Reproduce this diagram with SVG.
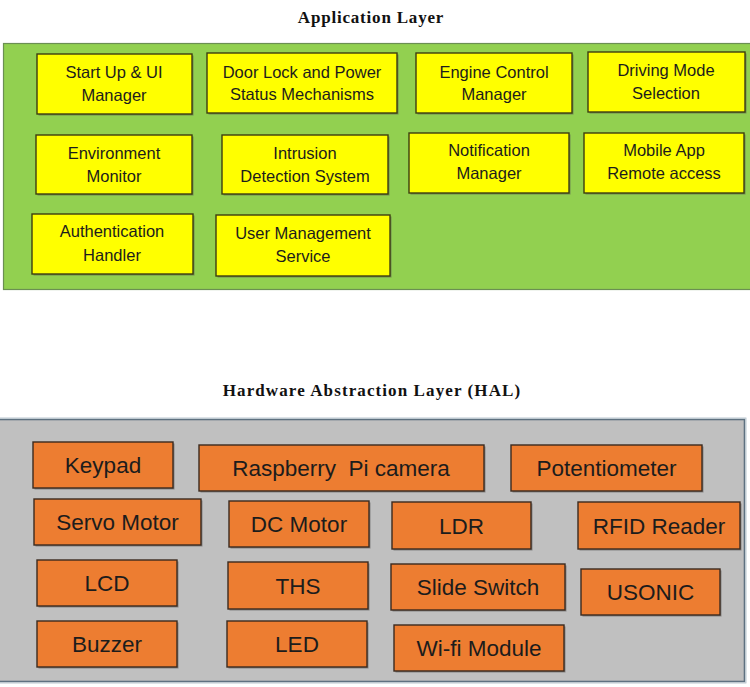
<svg xmlns="http://www.w3.org/2000/svg" width="750" height="687" viewBox="0 0 750 687">
<defs>
<style>
.title{font-family:"Liberation Serif","Times New Roman",serif;font-weight:bold;font-size:17px;fill:#111;text-anchor:middle}
.app rect.b{fill:#ffff00;stroke:#3d3d10;stroke-width:1.4}
.hal rect.b{fill:#ed7d31;stroke:#3b2a1e;stroke-width:1.4}
rect.s{fill:#555;opacity:0.55}
.app text{font-family:"Liberation Sans",Arial,sans-serif;font-size:16.5px;fill:#1c1c1c;text-anchor:middle}
.hal text{font-family:"Liberation Sans",Arial,sans-serif;font-size:22.5px;fill:#1c1c1c;text-anchor:middle}
</style>
</defs>
<rect width="750" height="687" fill="#ffffff"/>

<text class="title" x="371" y="23" letter-spacing="0.8">Application Layer</text>
<g id="app-layer">
<rect x="3.5" y="43.5" width="750" height="246" fill="#92d050" stroke="#6b8f52" stroke-width="1.2"/>
</g>

<g class="app">
<g id="startup"><rect class="s" x="38.5" y="55.5" width="155" height="60"/><rect class="b" x="37" y="54" width="155" height="60"/><text x="114" y="78">Start Up &amp; UI</text><text x="114" y="101">Manager</text></g>
<g id="doorlock"><rect class="s" x="208.5" y="54.5" width="190" height="60"/><rect class="b" x="207" y="53" width="190" height="60"/><text x="302" y="77.5">Door Lock and Power</text><text x="302" y="100">Status Mechanisms</text></g>
<g id="engine"><rect class="s" x="417.5" y="54.5" width="156" height="60"/><rect class="b" x="416" y="53" width="156" height="60"/><text x="494" y="77.5">Engine Control</text><text x="494" y="100">Manager</text></g>
<g id="driving"><rect class="s" x="589.5" y="53.5" width="157" height="60"/><rect class="b" x="588" y="52" width="157" height="60"/><text x="666" y="76">Driving Mode</text><text x="666" y="99">Selection</text></g>

<g id="environment"><rect class="s" x="37.5" y="136.5" width="156" height="59"/><rect class="b" x="36" y="135" width="156" height="59"/><text x="114" y="158.5">Environment</text><text x="114" y="181.5">Monitor</text></g>
<g id="intrusion"><rect class="s" x="223.5" y="136.5" width="166" height="59"/><rect class="b" x="222" y="135" width="166" height="59"/><text x="305" y="158.5">Intrusion</text><text x="305" y="181.5">Detection System</text></g>
<g id="notification"><rect class="s" x="410.5" y="134.5" width="160" height="60"/><rect class="b" x="409" y="133" width="160" height="60"/><text x="489" y="156">Notification</text><text x="489" y="179">Manager</text></g>
<g id="mobile"><rect class="s" x="585.5" y="134.5" width="160" height="60"/><rect class="b" x="584" y="133" width="160" height="60"/><text x="664" y="156">Mobile App</text><text x="664" y="179">Remote access</text></g>

<g id="authentication"><rect class="s" x="33.5" y="215.5" width="161" height="60"/><rect class="b" x="32" y="214" width="161" height="60"/><text x="112" y="237">Authentication</text><text x="112" y="260.5">Handler</text></g>
<g id="usermgmt"><rect class="s" x="217.5" y="216.5" width="174" height="61"/><rect class="b" x="216" y="215" width="174" height="61"/><text x="303" y="239">User Management</text><text x="303" y="262">Service</text></g>
</g>

<text class="title" x="372" y="396" letter-spacing="1.1">Hardware Abstraction Layer (HAL)</text>
<g id="hal-layer">
<rect x="-2" y="419.5" width="746.5" height="262" fill="#c0c0c0" stroke="#5e7180" stroke-width="1.6"/>
<rect x="-3" y="418" width="749" height="265" fill="none" stroke="#a9b8c4" stroke-width="0.8"/>
</g>

<g class="hal">
<g id="keypad"><rect class="s" x="34.5" y="443.5" width="140" height="46"/><rect class="b" x="33" y="442" width="140" height="46"/><text x="103" y="473">Keypad</text></g>
<g id="rpicam"><rect class="s" x="200.5" y="446.5" width="285" height="46"/><rect class="b" x="199" y="445" width="285" height="46"/><text x="341" y="476" xml:space="preserve">Raspberry  Pi camera</text></g>
<g id="potentiometer"><rect class="s" x="512.5" y="446.5" width="191" height="46"/><rect class="b" x="511" y="445" width="191" height="46"/><text x="606.5" y="476">Potentiometer</text></g>

<g id="servo"><rect class="s" x="35.5" y="500.5" width="167" height="46"/><rect class="b" x="34" y="499" width="167" height="46"/><text x="117.5" y="530">Servo Motor</text></g>
<g id="dcmotor"><rect class="s" x="230.5" y="502.5" width="140" height="46"/><rect class="b" x="229" y="501" width="140" height="46"/><text x="299" y="532">DC Motor</text></g>
<g id="ldr"><rect class="s" x="393.5" y="503.5" width="139" height="47"/><rect class="b" x="392" y="502" width="139" height="47"/><text x="461.5" y="533.5">LDR</text></g>
<g id="rfid"><rect class="s" x="579.5" y="503.5" width="162" height="47"/><rect class="b" x="578" y="502" width="162" height="47"/><text x="659" y="533.5">RFID Reader</text></g>

<g id="lcd"><rect class="s" x="38.5" y="561.5" width="140" height="46"/><rect class="b" x="37" y="560" width="140" height="46"/><text x="107" y="591">LCD</text></g>
<g id="ths"><rect class="s" x="229.5" y="563.5" width="140" height="47"/><rect class="b" x="228" y="562" width="140" height="47"/><text x="298" y="593.5">THS</text></g>
<g id="slide"><rect class="s" x="392.5" y="565.5" width="174" height="46"/><rect class="b" x="391" y="564" width="174" height="46"/><text x="478" y="595">Slide Switch</text></g>
<g id="usonic"><rect class="s" x="582.5" y="570.5" width="139" height="46"/><rect class="b" x="581" y="569" width="139" height="46"/><text x="650.5" y="600">USONIC</text></g>

<g id="buzzer"><rect class="s" x="38.5" y="622.5" width="140" height="46"/><rect class="b" x="37" y="621" width="140" height="46"/><text x="107" y="652">Buzzer</text></g>
<g id="led"><rect class="s" x="228.5" y="622.5" width="140" height="46"/><rect class="b" x="227" y="621" width="140" height="46"/><text x="297" y="652">LED</text></g>
<g id="wifi"><rect class="s" x="395.5" y="626.5" width="170" height="46"/><rect class="b" x="394" y="625" width="170" height="46"/><text x="479" y="656">Wi-fi Module</text></g>
</g>

<g id="connectors"></g>
</svg>
